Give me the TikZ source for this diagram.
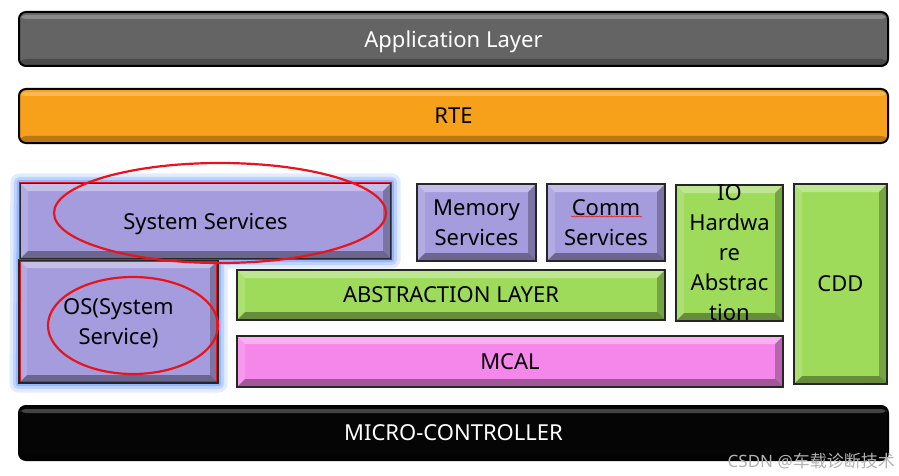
\documentclass[tikz,border=0pt]{standalone}
\usepackage{fontspec}
\setmainfont{Noto Sans}
\newfontfamily\cjkfont{Noto Sans CJK SC}
\usetikzlibrary{shapes.geometric,backgrounds,decorations.pathmorphing}
\definecolor{appgray}{HTML}{646464}
\definecolor{rteorange}{HTML}{F7A11A}
\definecolor{svcpurple}{HTML}{A59CDD}
\definecolor{hwgreen}{HTML}{9EDB5A}
\definecolor{mcalpink}{HTML}{F587EA}
\definecolor{mcublack}{HTML}{050505}
\definecolor{glowblue}{HTML}{6C9BFF}
\definecolor{markred}{HTML}{E8141C}
\newcommand{\bvl}{8pt}
\newcommand{\boxfont}{\fontsize{22}{30}\selectfont}
\tikzstyle{bevelbox} = [rectangle, draw=black!85, line width=1.3pt, inner sep=2pt, align=center, font=\boxfont, text depth=-3pt,
  path picture={
    \fill[white,opacity=.35] (path picture bounding box.north west) -- (path picture bounding box.north east)
      -- ([shift={(-\bvl,-\bvl)}]path picture bounding box.north east) -- ([shift={(\bvl,-\bvl)}]path picture bounding box.north west) -- cycle;
    \fill[white,opacity=.15] (path picture bounding box.north west) -- ([shift={(\bvl,-\bvl)}]path picture bounding box.north west)
      -- ([shift={(\bvl,\bvl)}]path picture bounding box.south west) -- (path picture bounding box.south west) -- cycle;
    \fill[black,opacity=.25] (path picture bounding box.north east) -- ([shift={(-\bvl,-\bvl)}]path picture bounding box.north east)
      -- ([shift={(-\bvl,\bvl)}]path picture bounding box.south east) -- (path picture bounding box.south east) -- cycle;
    \fill[black,opacity=.35] (path picture bounding box.south west) -- ([shift={(\bvl,\bvl)}]path picture bounding box.south west)
      -- ([shift={(-\bvl,\bvl)}]path picture bounding box.south east) -- (path picture bounding box.south east) -- cycle;
  }]
\tikzstyle{layerbar} = [rectangle, rounded corners=7pt, draw=black, line width=2pt, minimum width=869pt, minimum height=54pt, font=\boxfont, text depth=-2pt,
  path picture={
    \fill[white,opacity=.25] ([yshift=-3pt]path picture bounding box.north west) rectangle ([yshift=-7pt]path picture bounding box.north east);
    \fill[black,opacity=.25] ([yshift=7pt]path picture bounding box.south west) rectangle (path picture bounding box.south east);
  }]
\tikzstyle{ring} = [ellipse, draw=markred, line width=2.2pt, inner sep=0pt]
\tikzstyle{redline} = [draw=markred, line width=1pt]
\tikzstyle{glow} = [draw=glowblue, line join=round]

\begin{document}
\begin{tikzpicture}[x=1pt, y=-1pt]
  \useasboundingbox (0,0) rectangle (899,476);
  % top layers
  \node[layerbar, fill=appgray, text=white] (app) at (453.5,39) {Application Layer};
  \node[layerbar, fill=rteorange] (rte) at (453.5,116) {RTE};
  % services
  \node[bevelbox, fill=svcpurple, minimum width=371pt, minimum height=76pt] (sys) at (205.5,221) {System Services};
  \node[bevelbox, fill=svcpurple, minimum width=199pt, minimum height=123pt] (os) at (118.5,321.5) {OS(System\\Service)};
  \node[bevelbox, fill=svcpurple, minimum width=119pt, minimum height=77pt] (mem) at (476.5,222.5) {Memory\\Services};
  \node[bevelbox, fill=svcpurple, minimum width=118pt, minimum height=77pt] (comm) at (606,222.5) {Comm\\Services};
  % hardware side
  \node[bevelbox, fill=hwgreen, minimum width=107pt, minimum height=136pt] (io) at (729.5,253) {};
  \node[align=center, font=\boxfont, inner sep=0pt] (iotext) at (io.center) {IO\\Hardwa\\re\\Abstrac\\tion};
  \node[bevelbox, fill=hwgreen, minimum width=93pt, minimum height=200pt] (cdd) at (840.5,284) {CDD};
  \node[bevelbox, fill=hwgreen, minimum width=428pt, minimum height=50pt] (abs) at (451,295) {ABSTRACTION LAYER};
  \node[bevelbox, fill=mcalpink, minimum width=546pt, minimum height=51pt] (mcal) at (510,361.5) {MCAL};
  \node[layerbar, fill=mcublack, text=white] (mcu) at (453.5,433) {MICRO-CONTROLLER};
  % glow round the services
  \begin{pgfonlayer}{background}
    \draw[glow, line width=18pt, opacity=.2] (sys.north west) -- (sys.north east) -- (sys.south east) -- (sys.south -| os.east) -- (os.south east) -- (os.south west) -- cycle;
    \draw[glow, line width=11pt, opacity=.3] (sys.north west) -- (sys.north east) -- (sys.south east) -- (sys.south -| os.east) -- (os.south east) -- (os.south west) -- cycle;
    \draw[glow, line width=5pt, opacity=.5] (sys.north west) -- (sys.north east) -- (sys.south east) -- (sys.south -| os.east) -- (os.south east) -- (os.south west) -- cycle;
  \end{pgfonlayer}
  % red marks
  \draw[redline] (sys.north west) rectangle (sys.south east);
  \draw[redline] ([shift={(2pt,-2pt)}]os.north west) rectangle ([shift={(-2pt,2pt)}]os.south east);
  \node[ring, minimum width=332pt, minimum height=100pt] (sysring) at (220,213) {};
  \node[ring, minimum width=170pt, minimum height=97pt] (osring) at (133,325.5) {};
  \draw[draw=markred, line width=.5pt, decorate, decoration={snake, amplitude=.6pt, segment length=2.5pt}]
    ([shift={(-35pt,6pt)}]comm.center) -- ([shift={(36pt,6pt)}]comm.center);
  % watermark
  \node[anchor=east, text=black!30, font=\fontsize{17}{19}\selectfont, inner sep=0pt] (mark) at (895,461) {CSDN @{\cjkfont 车载诊断技术}};
\end{tikzpicture}
\end{document}
